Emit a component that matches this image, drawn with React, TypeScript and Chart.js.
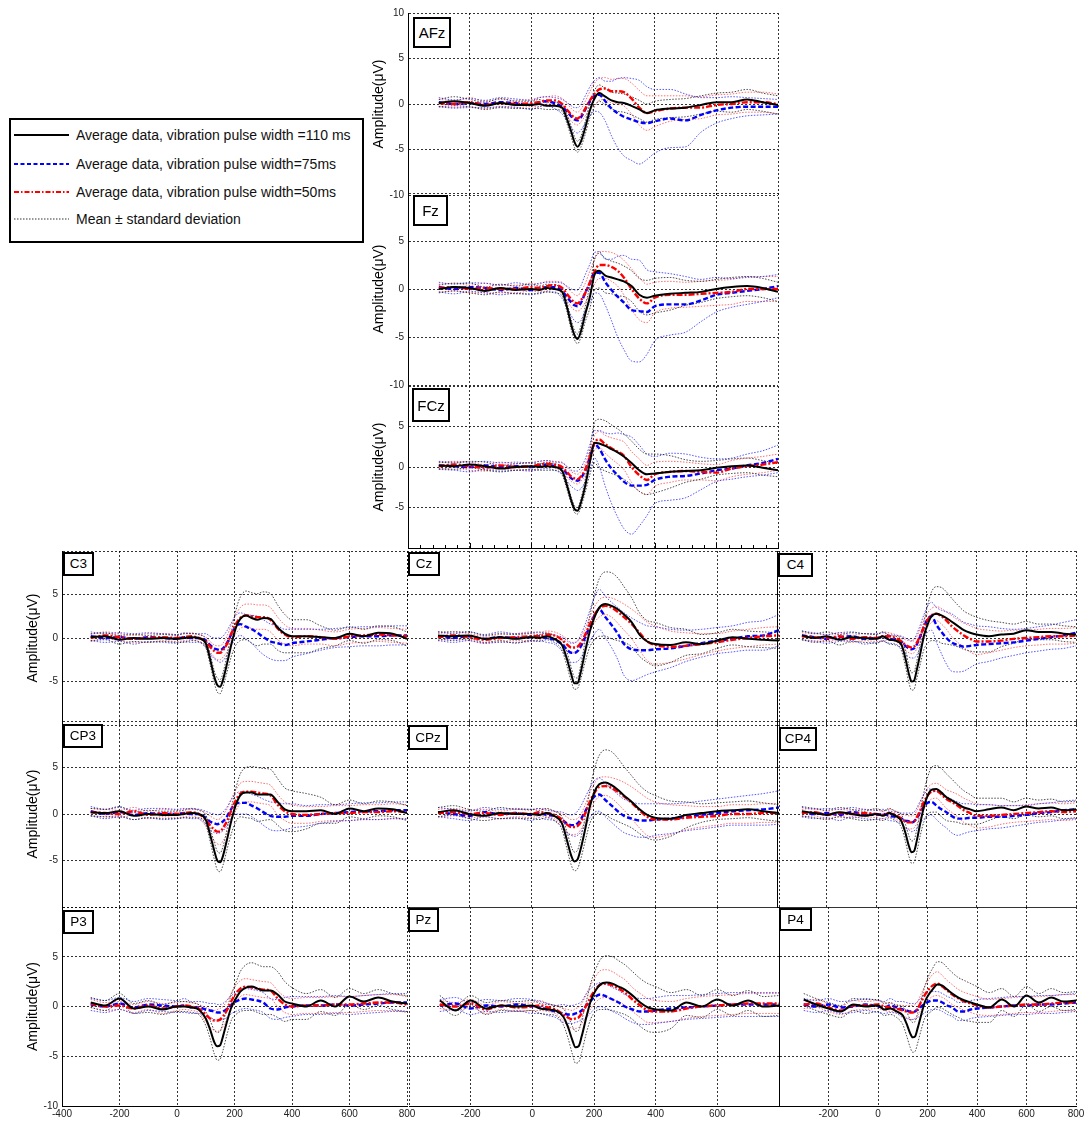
import React, { useEffect, useRef } from 'react';
import { Chart, registerables } from 'chart.js';

Chart.register(...registerables);

// ---------------- data ----------------
const TIME_MS = [-300, -250, -200, -150, -100, -50, 0, 25, 50, 75,
  100, 115, 130, 140, 150, 160, 175, 190, 205, 220,
  240, 260, 280, 300, 325, 350, 375, 400, 450, 500,
  550, 600, 650, 700, 750, 800];

const X_TICKS_ALL = [-400, -200, 0, 200, 400, 600, 800];
const X_TICKS_MID = [-200, 0, 200, 400, 600];
const X_TICKS_RIGHT = [-200, 0, 200, 400, 600, 800];
const Y_TICKS_FULL = [10, 5, 0, -5, -10];
const Y_TICKS_LOW = [5, 0, -5, -10];
const Y_TICKS_MIDDLE = [5, 0, -5];

const SERIES_LABELS = [
  'Average data, vibration pulse width =110 ms',
  'Average data, vibration pulse width=75ms',
  'Average data, vibration pulse width=50ms',
  'Mean \u00b1 standard deviation',
];
const Y_TITLE = 'Amplitude(\u03bcV)';

// AFz
const AFZ_M110 = [0.1, 0.3, 0.1, -0.2, 0.1, -0.1, -0.1, 0.0, -0.2, -0.2, -0.4, -1.6, -3.1, -4.2, -4.7, -4.2, -2.6, -0.7, 0.6, 1.2, 0.8, 0.4, 0.2, 0.1, -0.2, -0.6, -1.0, -0.7, -0.5, -0.4, -0.1, 0.2, 0.2, 0.5, 0.2, -0.1];
const AFZ_M75 = [0.2, 0.0, 0.1, 0.0, 0.2, 0.1, -0.1, 0.2, 0.3, 0.1, -0.3, -0.8, -1.4, -1.7, -1.8, -1.5, -0.6, 0.3, 0.9, 1.0, 0.3, -0.5, -1.0, -1.4, -1.7, -2.0, -2.1, -1.9, -1.6, -1.8, -1.2, -0.7, -0.4, -0.3, -0.3, -0.3];
const AFZ_M50 = [0.1, 0.0, 0.2, -0.1, 0.1, 0.0, 0.1, 0.2, 0.4, 0.4, 0.0, -0.6, -1.2, -1.5, -1.6, -1.3, -0.5, 0.4, 1.1, 1.6, 1.7, 1.4, 1.4, 1.3, 0.6, -0.4, -1.0, -0.8, -0.5, -0.4, -0.4, -0.1, 0.0, 0.2, 0.2, 0.0];
const AFZ_S110 = [0.4, 0.5, 0.4, 0.4, 0.5, 0.4, 0.4, 0.5, 0.4, 0.4, 0.4, 0.5, 0.6, 0.6, 0.6, 0.6, 0.7, 0.8, 0.9, 0.9, 0.9, 0.9, 1.0, 1.0, 1.0, 1.0, 1.0, 1.0, 1.0, 1.0, 1.0, 1.0, 1.1, 1.1, 1.0, 1.0];
const AFZ_S75 = [0.5, 0.45, 0.5, 0.4, 0.5, 0.45, 0.5, 0.5, 0.5, 0.6, 0.8, 1.0, 1.2, 1.3, 1.4, 1.4, 1.5, 1.6, 1.7, 1.9, 2.2, 3.0, 3.8, 4.3, 4.5, 4.6, 4.0, 3.5, 3.2, 2.9, 1.9, 1.4, 1.2, 1.0, 0.9, 0.8];
const AFZ_S50 = [0.4, 0.4, 0.5, 0.4, 0.4, 0.4, 0.4, 0.5, 0.4, 0.5, 0.6, 0.7, 0.7, 0.7, 0.7, 0.7, 0.8, 1.0, 1.2, 1.2, 1.2, 1.3, 1.4, 1.5, 1.7, 1.9, 1.9, 1.7, 1.4, 1.3, 1.2, 1.1, 1.1, 1.1, 1.1, 1.1];

// Fz
const FZ_M110 = [0.0, 0.2, 0.1, -0.2, 0.1, -0.1, 0.0, -0.1, 0.1, 0.0, -0.3, -1.8, -3.8, -4.8, -5.2, -4.5, -2.6, -0.8, 1.5, 1.9, 1.4, 1.2, 1.0, 0.8, 0.3, -0.6, -0.9, -0.7, -0.5, -0.4, -0.3, 0.0, 0.2, 0.3, 0.1, -0.3];
const FZ_M75 = [0.2, 0.0, 0.2, 0.1, -0.1, 0.1, -0.1, 0.1, 0.2, 0.2, -0.2, -0.8, -1.4, -1.7, -1.8, -1.5, -0.4, 0.6, 1.7, 1.7, 0.7, -0.1, -0.8, -1.4, -2.2, -2.3, -2.4, -1.8, -1.6, -1.6, -1.2, -0.6, -0.4, -0.2, 0.0, 0.3];
const FZ_M50 = [0.1, 0.2, 0.0, 0.1, 0.0, 0.0, 0.2, 0.1, 0.3, 0.4, 0.1, -0.5, -1.1, -1.4, -1.5, -1.2, -0.4, 0.7, 1.8, 2.5, 2.5, 2.3, 1.9, 1.2, 0.0, -1.0, -1.5, -0.9, -0.6, -0.6, -0.5, -0.4, -0.3, 0.0, 0.0, 0.0];
const FZ_S110 = [0.4, 0.4, 0.5, 0.4, 0.4, 0.4, 0.5, 0.4, 0.4, 0.4, 0.4, 0.5, 0.5, 0.5, 0.5, 0.6, 0.8, 1.2, 1.6, 1.8, 1.8, 1.7, 1.7, 1.6, 1.6, 1.7, 1.8, 1.8, 1.7, 1.3, 1.1, 1.0, 1.0, 1.0, 1.0, 1.0];
const FZ_S75 = [0.5, 0.5, 0.45, 0.5, 0.5, 0.55, 0.5, 0.5, 0.5, 0.5, 0.8, 1.1, 1.4, 1.6, 1.7, 1.8, 1.9, 2.0, 2.1, 2.2, 2.4, 3.2, 4.2, 4.9, 5.3, 5.3, 4.4, 3.6, 3.2, 2.9, 2.2, 1.8, 1.5, 1.4, 1.3, 1.2];
const FZ_S50 = [0.4, 0.4, 0.4, 0.5, 0.4, 0.4, 0.4, 0.4, 0.5, 0.4, 0.6, 0.7, 0.8, 0.8, 0.8, 0.9, 1.0, 1.2, 1.3, 1.4, 1.4, 1.5, 1.6, 1.8, 2.1, 2.2, 2.0, 1.6, 1.4, 1.3, 1.3, 1.3, 1.3, 1.3, 1.3, 1.3];

// FCz
const FCZ_M110 = [0.2, 0.1, 0.3, 0.1, -0.2, 0.0, 0.1, 0.0, 0.1, 0.0, -0.5, -2.2, -4.2, -5.2, -5.4, -4.5, -2.3, 0.6, 3.0, 2.9, 2.6, 2.2, 1.8, 1.3, 0.5, -0.4, -0.9, -0.8, -0.6, -0.5, -0.4, -0.1, 0.1, 0.2, -0.1, -0.4];
const FCZ_M75 = [0.2, 0.1, 0.0, 0.2, 0.0, 0.1, 0.0, 0.2, 0.3, 0.1, -0.2, -0.8, -1.4, -1.6, -1.7, -1.4, -0.4, 1.2, 2.8, 2.3, 0.9, -0.2, -1.0, -1.8, -2.3, -2.3, -2.2, -1.6, -1.2, -1.1, -0.8, -0.4, -0.2, 0.2, 0.5, 1.0];
const FCZ_M50 = [0.1, 0.3, 0.1, -0.1, 0.2, 0.0, 0.1, 0.3, 0.4, 0.3, 0.0, -0.6, -1.2, -1.4, -1.5, -1.2, -0.3, 1.3, 3.0, 3.4, 2.8, 2.3, 1.9, 1.4, 0.0, -1.0, -1.6, -0.9, -0.6, -0.5, -0.6, -0.7, -0.2, 0.1, 0.3, 0.6];
const FCZ_S110 = [0.4, 0.4, 0.4, 0.5, 0.4, 0.4, 0.4, 0.4, 0.5, 0.4, 0.5, 0.5, 0.4, 0.4, 0.4, 0.5, 0.8, 1.5, 2.5, 3.0, 3.1, 3.0, 2.9, 2.8, 2.7, 2.6, 2.5, 2.4, 2.0, 1.4, 1.1, 0.9, 0.9, 0.9, 0.9, 0.8];
const FCZ_S75 = [0.5, 0.5, 0.6, 0.5, 0.5, 0.5, 0.5, 0.5, 0.5, 0.5, 0.7, 0.9, 1.0, 1.1, 1.2, 1.3, 1.4, 1.6, 1.7, 2.2, 3.3, 4.3, 5.2, 5.8, 6.0, 5.0, 3.8, 2.9, 2.9, 2.7, 2.0, 1.4, 1.3, 1.4, 1.5, 1.7];
const FCZ_S50 = [0.4, 0.4, 0.5, 0.4, 0.4, 0.4, 0.5, 0.4, 0.4, 0.4, 0.6, 0.6, 0.6, 0.6, 0.6, 0.6, 0.7, 0.8, 0.9, 1.0, 1.1, 1.3, 1.5, 1.7, 1.9, 2.0, 1.8, 1.5, 1.3, 1.1, 1.0, 1.0, 1.0, 1.0, 1.0, 1.0];

// C3
const C3_M110 = [0.1, 0.2, -0.2, 0.0, -0.1, 0.0, -0.1, 0.0, 0.1, 0.0, -0.6, -2.4, -4.5, -5.4, -5.6, -4.8, -2.8, -0.6, 1.2, 2.2, 2.6, 2.3, 2.1, 2.3, 2.2, 1.2, 0.5, 0.2, 0.2, 0.1, 0.0, 0.5, 0.2, 0.6, 0.5, -0.1];
const C3_M75 = [0.2, 0.0, 0.1, -0.1, 0.1, 0.0, -0.1, 0.1, 0.0, 0.0, -0.3, -0.8, -1.2, -1.3, -1.4, -1.2, -0.5, 0.5, 1.3, 1.6, 1.3, 1.0, 0.6, 0.1, -0.4, -0.6, -0.8, -0.6, -0.4, -0.2, 0.0, 0.1, 0.2, 0.2, 0.3, 0.3];
const C3_M50 = [0.0, 0.3, 0.1, -0.1, 0.0, 0.1, 0.0, 0.1, 0.2, 0.0, -0.4, -1.0, -1.5, -1.7, -1.7, -1.4, -0.6, 0.6, 1.6, 2.3, 2.6, 2.5, 2.4, 2.4, 2.1, 1.1, 0.4, 0.1, 0.2, 0.1, -0.1, 0.2, 0.3, 0.4, 0.3, 0.2];
const C3_S110 = [0.4, 0.4, 0.5, 0.4, 0.4, 0.4, 0.4, 0.5, 0.4, 0.4, 0.5, 0.6, 0.7, 0.8, 0.8, 0.8, 1.0, 1.4, 2.0, 2.5, 2.8, 2.9, 3.0, 3.0, 2.9, 2.6, 2.2, 1.9, 1.9, 1.3, 0.9, 0.8, 0.8, 0.8, 0.8, 0.8];
const C3_S75 = [0.5, 0.5, 0.5, 0.6, 0.5, 0.5, 0.5, 0.5, 0.5, 0.5, 0.8, 1.0, 1.2, 1.3, 1.4, 1.4, 1.4, 1.3, 1.3, 1.3, 1.4, 1.6, 1.9, 2.0, 2.0, 2.0, 1.8, 1.6, 1.4, 1.2, 1.1, 1.1, 1.1, 1.1, 1.1, 1.1];
const C3_S50 = [0.4, 0.4, 0.4, 0.4, 0.5, 0.4, 0.4, 0.4, 0.4, 0.4, 0.5, 0.6, 0.7, 0.8, 0.8, 0.8, 0.9, 1.0, 1.1, 1.2, 1.3, 1.4, 1.4, 1.4, 1.4, 1.3, 1.1, 1.0, 0.9, 0.8, 0.8, 0.8, 0.8, 0.8, 0.8, 0.8];

// Cz
const CZ_M110 = [0.3, 0.2, 0.3, -0.1, 0.1, -0.1, 0.1, 0.0, 0.2, -0.1, -0.8, -2.3, -4.2, -5.2, -5.2, -4.0, -1.5, 0.8, 2.4, 3.5, 3.9, 3.7, 3.3, 2.7, 1.8, 0.4, -0.4, -0.7, -0.8, -0.5, -0.7, -0.3, 0.1, -0.1, -0.2, -0.3];
const CZ_M75 = [0.2, 0.0, 0.2, -0.1, 0.1, 0.0, 0.1, 0.2, 0.0, -0.2, -0.7, -1.3, -1.7, -1.7, -1.5, -1.0, 0.1, 1.4, 2.6, 3.3, 2.4, 1.5, 0.5, -0.7, -1.3, -1.4, -1.4, -1.3, -1.2, -0.9, -0.6, -0.3, -0.1, 0.2, 0.3, 0.9];
const CZ_M50 = [0.1, 0.3, 0.1, -0.2, 0.0, 0.1, 0.2, 0.2, 0.4, 0.3, -0.2, -0.7, -1.1, -1.1, -1.0, -0.6, 0.4, 1.6, 2.7, 3.4, 3.7, 3.5, 3.0, 2.4, 1.6, 0.6, -0.4, -0.8, -1.0, -0.9, -0.7, -0.5, -0.2, 0.0, 0.2, 0.3];
const CZ_S110 = [0.4, 0.5, 0.4, 0.4, 0.4, 0.5, 0.4, 0.4, 0.4, 0.4, 0.6, 0.8, 0.8, 0.7, 0.6, 0.8, 1.2, 1.8, 2.6, 3.3, 3.7, 3.8, 3.6, 3.2, 2.8, 2.5, 2.4, 2.5, 2.0, 1.5, 1.1, 0.9, 0.9, 0.9, 0.9, 0.9];
const CZ_S75 = [0.5, 0.5, 0.5, 0.5, 0.6, 0.5, 0.5, 0.5, 0.5, 0.5, 0.8, 1.0, 1.1, 1.1, 1.2, 1.3, 1.5, 1.8, 2.1, 2.3, 2.4, 2.6, 3.0, 3.6, 3.6, 3.2, 2.8, 2.6, 2.2, 1.8, 1.6, 1.5, 1.5, 1.6, 1.7, 1.8];
const CZ_S50 = [0.4, 0.4, 0.4, 0.4, 0.4, 0.4, 0.5, 0.4, 0.4, 0.4, 0.5, 0.6, 0.6, 0.6, 0.6, 0.6, 0.7, 0.8, 0.9, 1.0, 1.0, 1.1, 1.3, 1.5, 1.7, 2.0, 2.2, 2.2, 1.8, 1.5, 1.2, 1.0, 1.0, 1.0, 1.0, 1.0];

// C4
const C4_M110 = [0.3, 0.0, 0.2, -0.2, 0.1, 0.0, -0.1, 0.2, -0.2, -0.3, -0.8, -2.3, -4.2, -5.0, -4.9, -3.8, -1.8, 0.3, 1.6, 2.5, 2.8, 2.6, 2.3, 1.9, 1.4, 0.9, 0.6, 0.4, 0.2, 0.4, 0.5, 0.9, 0.7, 0.7, 0.5, 0.4];
const C4_M75 = [0.3, 0.1, -0.1, 0.1, 0.2, -0.1, 0.0, 0.1, -0.1, -0.2, -0.5, -0.9, -1.2, -1.3, -1.2, -0.8, 0.2, 1.3, 2.2, 2.5, 1.5, 0.7, 0.0, -0.5, -0.8, -1.0, -0.9, -0.8, -0.7, -0.6, -0.5, -0.3, -0.1, 0.1, 0.3, 0.6];
const C4_M50 = [0.2, 0.1, 0.0, 0.2, -0.1, 0.1, 0.0, 0.2, 0.2, 0.0, -0.4, -0.8, -1.0, -1.1, -1.0, -0.6, 0.3, 1.3, 2.1, 2.6, 2.8, 2.5, 2.0, 1.4, 0.8, 0.3, -0.1, -0.4, -0.4, -0.3, -0.1, 0.0, 0.1, 0.2, 0.2, 0.3];
const C4_S110 = [0.5, 0.5, 0.5, 0.6, 0.5, 0.5, 0.5, 0.5, 0.5, 0.5, 0.7, 0.9, 1.0, 1.0, 1.0, 1.0, 1.2, 1.6, 2.2, 2.8, 3.1, 3.2, 3.0, 2.7, 2.4, 2.2, 2.1, 2.0, 1.8, 1.4, 1.1, 1.0, 0.9, 0.9, 0.9, 0.9];
const C4_S75 = [0.5, 0.5, 0.5, 0.5, 0.5, 0.6, 0.5, 0.5, 0.5, 0.5, 0.7, 0.9, 1.0, 1.0, 1.1, 1.2, 1.3, 1.4, 1.5, 1.6, 2.0, 2.5, 3.0, 3.3, 3.1, 2.8, 2.5, 2.2, 2.0, 1.7, 1.5, 1.4, 1.4, 1.4, 1.5, 1.5];
const C4_S50 = [0.4, 0.4, 0.4, 0.4, 0.4, 0.4, 0.4, 0.5, 0.4, 0.4, 0.5, 0.6, 0.7, 0.7, 0.7, 0.7, 0.8, 0.8, 0.8, 0.8, 0.8, 0.9, 1.0, 1.2, 1.3, 1.4, 1.5, 1.5, 1.3, 1.1, 1.0, 0.9, 0.9, 0.9, 0.9, 0.9];

// CP3
const CP3_M110 = [0.2, 0.1, 0.3, -0.2, 0.0, -0.1, -0.1, 0.0, 0.1, 0.0, -0.6, -2.2, -4.0, -5.0, -5.2, -4.5, -2.6, -0.6, 1.0, 2.0, 2.3, 2.3, 2.1, 2.1, 2.1, 1.3, 0.5, 0.3, 0.3, 0.4, 0.0, 0.6, 0.3, 0.6, 0.5, 0.1];
const CP3_M75 = [0.3, 0.0, 0.2, -0.1, 0.1, 0.0, 0.0, 0.1, 0.0, 0.0, -0.4, -0.8, -1.0, -1.1, -1.0, -0.8, -0.2, 0.6, 1.1, 1.2, 1.2, 0.9, 0.6, 0.2, -0.2, -0.3, -0.3, -0.2, -0.2, 0.0, 0.1, 0.2, 0.3, 0.3, 0.4, 0.4];
const CP3_M50 = [0.2, 0.1, 0.0, 0.3, -0.1, 0.1, 0.0, 0.1, 0.2, 0.0, -0.6, -1.2, -1.7, -1.9, -1.9, -1.5, -0.7, 0.5, 1.5, 2.2, 2.4, 2.4, 2.3, 2.2, 2.0, 1.0, 0.3, 0.0, -0.1, 0.0, 0.1, 0.1, 0.2, 0.2, 0.3, 0.2];
const CP3_S110 = [0.4, 0.4, 0.5, 0.4, 0.4, 0.4, 0.4, 0.4, 0.5, 0.4, 0.5, 0.7, 0.9, 1.0, 1.0, 1.0, 1.1, 1.4, 1.8, 2.3, 2.7, 2.8, 2.9, 2.8, 2.7, 2.5, 2.3, 2.2, 1.9, 1.4, 1.0, 0.9, 0.8, 0.8, 0.8, 0.8];
const CP3_S75 = [0.5, 0.5, 0.5, 0.5, 0.5, 0.6, 0.5, 0.5, 0.5, 0.5, 0.7, 0.9, 1.0, 1.0, 1.0, 1.0, 1.0, 1.0, 1.1, 1.2, 1.2, 1.2, 1.3, 1.4, 1.5, 1.5, 1.4, 1.3, 1.1, 1.0, 0.9, 0.9, 0.9, 0.9, 0.9, 0.9];
const CP3_S50 = [0.4, 0.4, 0.4, 0.4, 0.4, 0.4, 0.4, 0.4, 0.4, 0.5, 0.7, 1.0, 1.2, 1.3, 1.4, 1.4, 1.3, 1.2, 1.1, 1.1, 1.1, 1.1, 1.1, 1.1, 1.1, 1.1, 1.0, 1.0, 0.9, 0.8, 0.8, 0.8, 0.8, 0.8, 0.8, 0.8];

// CPz
const CPZ_M110 = [0.2, 0.4, 0.0, -0.2, 0.1, 0.0, 0.0, -0.1, 0.1, -0.2, -1.0, -2.7, -4.5, -5.1, -4.9, -3.8, -1.6, 0.8, 2.4, 3.2, 3.4, 3.1, 2.6, 2.0, 1.3, 0.5, -0.1, -0.4, -0.5, -0.1, 0.1, 0.3, 0.4, 0.5, 0.3, 0.1];
const CPZ_M75 = [0.2, 0.0, -0.2, 0.2, 0.0, 0.1, -0.1, 0.1, -0.1, -0.2, -0.6, -1.0, -1.2, -1.2, -1.0, -0.6, 0.3, 1.2, 1.9, 2.1, 1.5, 0.9, 0.3, -0.2, -0.5, -0.7, -0.7, -0.6, -0.5, -0.3, -0.1, 0.1, 0.3, 0.4, 0.5, 0.7];
const CPZ_M50 = [0.1, 0.2, 0.0, 0.1, -0.1, 0.1, 0.0, 0.2, 0.1, -0.1, -0.6, -1.1, -1.4, -1.4, -1.3, -0.9, 0.1, 1.3, 2.3, 2.9, 3.0, 2.8, 2.4, 1.9, 1.2, 0.4, -0.3, -0.6, -0.6, -0.4, -0.3, -0.2, 0.0, 0.0, 0.1, 0.1];
const CPZ_S110 = [0.5, 0.5, 0.5, 0.5, 0.6, 0.5, 0.5, 0.5, 0.5, 0.5, 0.7, 0.9, 1.0, 1.0, 1.0, 1.1, 1.3, 1.8, 2.5, 3.1, 3.5, 3.6, 3.4, 3.1, 2.8, 2.6, 2.5, 2.4, 1.9, 1.4, 1.0, 0.9, 0.9, 0.9, 0.9, 0.9];
const CPZ_S75 = [0.5, 0.5, 0.5, 0.5, 0.5, 0.5, 0.6, 0.5, 0.5, 0.5, 0.8, 1.0, 1.1, 1.2, 1.3, 1.4, 1.5, 1.6, 1.7, 1.8, 1.8, 1.8, 1.8, 1.8, 1.8, 1.8, 1.8, 1.7, 1.6, 1.5, 1.5, 1.5, 1.5, 1.6, 1.7, 1.8];
const CPZ_S50 = [0.4, 0.4, 0.4, 0.4, 0.4, 0.4, 0.4, 0.4, 0.4, 0.4, 0.6, 0.8, 0.8, 0.8, 0.8, 0.8, 0.9, 1.0, 1.0, 1.0, 1.0, 1.1, 1.3, 1.5, 1.7, 1.9, 2.0, 1.9, 1.6, 1.3, 1.1, 1.0, 1.0, 1.0, 1.0, 1.0];

// CP4
const CP4_M110 = [0.3, 0.1, -0.1, 0.2, 0.0, -0.2, 0.0, -0.2, 0.1, -0.2, -0.8, -2.0, -3.5, -4.1, -4.0, -3.0, -1.0, 0.8, 2.0, 2.6, 2.7, 2.3, 1.8, 1.5, 1.1, 0.7, 0.5, 0.3, 0.5, 0.7, 0.4, 0.8, 0.6, 0.7, 0.4, 0.5];
const CP4_M75 = [0.2, 0.0, 0.1, -0.1, 0.2, 0.0, -0.1, 0.0, -0.2, -0.3, -0.5, -0.7, -0.8, -0.9, -0.8, -0.5, 0.2, 0.8, 1.2, 1.3, 0.9, 0.5, 0.2, -0.2, -0.5, -0.5, -0.4, -0.4, -0.3, -0.3, -0.2, -0.1, 0.1, 0.2, 0.4, 0.5];
const CP4_M50 = [0.1, 0.2, -0.1, 0.1, 0.0, 0.1, 0.0, -0.1, 0.1, -0.1, -0.5, -0.8, -0.9, -0.9, -0.8, -0.4, 0.4, 1.3, 2.0, 2.4, 2.5, 2.1, 1.6, 1.3, 0.9, 0.4, 0.1, -0.2, -0.2, -0.1, 0.0, 0.1, 0.2, 0.3, 0.2, 0.3];
const CP4_S110 = [0.5, 0.5, 0.5, 0.5, 0.5, 0.5, 0.6, 0.5, 0.5, 0.5, 0.7, 0.9, 1.1, 1.2, 1.2, 1.2, 1.3, 1.6, 2.0, 2.4, 2.5, 2.6, 2.5, 2.3, 2.0, 1.8, 1.6, 1.4, 1.2, 1.0, 0.9, 0.9, 0.9, 0.9, 0.9, 0.9];
const CP4_S75 = [0.5, 0.5, 0.5, 0.6, 0.5, 0.5, 0.5, 0.5, 0.5, 0.5, 0.6, 0.8, 0.9, 1.0, 1.0, 1.1, 1.2, 1.3, 1.4, 1.4, 1.5, 1.6, 1.7, 1.8, 1.8, 1.6, 1.5, 1.4, 1.3, 1.2, 1.1, 1.0, 1.0, 1.0, 1.0, 1.0];
const CP4_S50 = [0.4, 0.4, 0.4, 0.4, 0.4, 0.4, 0.4, 0.4, 0.4, 0.4, 0.5, 0.7, 0.7, 0.7, 0.7, 0.7, 0.8, 0.8, 0.8, 0.8, 0.8, 0.9, 1.0, 1.1, 1.2, 1.3, 1.3, 1.3, 1.2, 1.0, 0.9, 0.9, 0.9, 0.9, 0.9, 0.9];

// P3
const P3_M110 = [0.4, 0.1, 0.8, -0.2, 0.0, -0.3, 0.0, 0.0, -0.1, -0.3, -1.2, -2.3, -3.6, -4.0, -3.9, -3.0, -1.4, 0.0, 0.8, 1.5, 1.9, 2.0, 1.8, 1.6, 1.6, 1.2, 0.5, 0.3, 0.0, 0.6, 0.0, 1.0, 0.5, 0.9, 0.5, 0.3];
const P3_M75 = [0.2, 0.0, 0.3, -0.1, 0.2, 0.1, 0.0, 0.1, -0.1, -0.1, -0.3, -0.4, -0.5, -0.6, -0.6, -0.5, -0.2, 0.2, 0.5, 0.7, 0.8, 0.7, 0.6, 0.4, -0.2, -0.3, -0.1, 0.0, 0.1, 0.1, 0.2, 0.1, 0.2, 0.3, 0.4, 0.4];
const P3_M50 = [0.3, 0.0, 0.1, -0.2, 0.1, -0.2, 0.0, 0.1, 0.0, -0.2, -0.8, -1.2, -1.4, -1.4, -1.3, -1.0, -0.3, 0.6, 1.3, 1.8, 2.0, 1.9, 1.8, 1.7, 1.6, 0.8, 0.2, 0.0, 0.1, 0.1, 0.2, 0.2, 0.3, 0.4, 0.4, 0.2];
const P3_S110 = [0.5, 0.5, 0.5, 0.5, 0.6, 0.5, 0.5, 0.5, 0.5, 0.5, 0.7, 0.9, 1.2, 1.4, 1.4, 1.4, 1.3, 1.3, 1.6, 2.0, 2.3, 2.4, 2.4, 2.4, 2.4, 2.3, 2.0, 1.6, 1.3, 1.1, 0.9, 0.8, 0.8, 0.8, 0.8, 0.8];
const P3_S75 = [0.6, 0.6, 0.6, 0.6, 0.6, 0.6, 0.6, 0.7, 0.6, 0.6, 0.7, 0.7, 0.8, 0.8, 0.8, 0.8, 0.9, 0.9, 1.0, 1.0, 1.0, 1.0, 1.0, 1.0, 1.0, 1.0, 1.0, 1.0, 0.9, 0.9, 0.9, 0.9, 0.9, 0.9, 0.9, 0.9];
const P3_S50 = [0.4, 0.4, 0.4, 0.4, 0.4, 0.5, 0.4, 0.4, 0.4, 0.4, 0.7, 0.9, 1.0, 1.1, 1.1, 1.0, 0.9, 0.8, 0.8, 0.8, 0.8, 0.8, 0.8, 0.8, 0.8, 0.8, 0.8, 0.8, 0.8, 0.8, 0.8, 0.8, 0.8, 0.8, 0.8, 0.8];

// Pz
const PZ_M110 = [0.6, -0.4, 0.6, -0.2, 0.1, 0.0, 0.1, -0.2, -0.3, -0.4, -1.0, -2.0, -3.4, -4.1, -4.0, -3.0, -1.1, 0.6, 1.6, 2.2, 2.4, 2.3, 2.0, 1.7, 1.1, 0.4, -0.1, -0.3, -0.4, 0.4, 0.0, 0.7, 0.1, 0.6, 0.0, 0.1];
const PZ_M75 = [0.1, 0.3, -0.2, 0.1, 0.0, 0.2, 0.0, -0.1, -0.3, -0.5, -0.7, -0.8, -0.8, -0.7, -0.6, -0.4, 0.1, 0.6, 1.0, 1.2, 1.0, 0.7, 0.4, 0.0, -0.3, -0.5, -0.5, -0.4, -0.2, -0.1, 0.0, 0.1, 0.2, 0.2, 0.2, 0.2];
const PZ_M50 = [0.2, 0.0, 0.3, -0.3, 0.1, -0.1, 0.0, 0.1, -0.1, -0.3, -0.8, -1.1, -1.3, -1.2, -1.1, -0.7, 0.1, 1.0, 1.7, 2.2, 2.3, 2.1, 1.8, 1.4, 0.7, 0.1, -0.4, -0.5, -0.5, -0.2, 0.0, 0.1, 0.2, 0.3, 0.3, 0.3];
const PZ_S110 = [0.5, 0.5, 0.5, 0.6, 0.5, 0.5, 0.5, 0.5, 0.5, 0.5, 0.8, 1.1, 1.4, 1.6, 1.6, 1.6, 1.6, 1.8, 2.1, 2.5, 2.7, 2.7, 2.6, 2.5, 2.4, 2.4, 2.4, 2.3, 1.8, 1.3, 1.1, 1.0, 1.0, 1.0, 1.0, 1.0];
const PZ_S75 = [0.6, 0.6, 0.6, 0.6, 0.6, 0.6, 0.7, 0.6, 0.6, 0.6, 0.9, 0.9, 0.9, 0.9, 0.9, 0.9, 1.2, 1.2, 1.2, 1.2, 1.2, 1.2, 1.2, 1.2, 1.3, 1.3, 1.3, 1.3, 1.3, 1.2, 1.2, 1.2, 1.2, 1.2, 1.2, 1.2];
const PZ_S50 = [0.4, 0.4, 0.4, 0.4, 0.4, 0.4, 0.4, 0.5, 0.4, 0.4, 0.6, 0.8, 0.9, 1.0, 1.0, 1.0, 1.1, 1.2, 1.3, 1.4, 1.4, 1.4, 1.3, 1.3, 1.2, 1.2, 1.2, 1.1, 1.0, 1.0, 1.0, 1.0, 1.0, 1.0, 1.0, 1.0];

// P4
const P4_M110 = [0.7, 0.2, -0.2, -0.5, 0.2, 0.0, 0.1, -0.3, -0.2, -0.5, -0.9, -1.7, -2.7, -3.1, -3.0, -2.2, -0.8, 0.5, 1.2, 1.7, 2.2, 2.1, 1.7, 1.3, 0.9, 0.6, 0.4, 0.2, -0.1, 0.7, 0.0, 1.1, 0.4, 0.9, 0.5, 0.6];
const P4_M75 = [0.2, 0.0, 0.2, -0.1, 0.0, 0.2, 0.0, -0.1, 0.1, -0.1, -0.3, -0.4, -0.5, -0.5, -0.5, -0.3, 0.0, 0.3, 0.5, 0.6, 0.6, 0.4, 0.1, -0.1, -0.5, -0.5, -0.3, -0.2, -0.1, 0.0, 0.1, 0.1, 0.2, 0.2, 0.3, 0.4];
const P4_M50 = [0.2, 0.3, -0.1, -0.4, 0.1, 0.1, 0.2, 0.0, -0.1, -0.2, -0.4, -0.5, -0.6, -0.6, -0.5, -0.2, 0.5, 1.2, 1.7, 2.1, 2.3, 2.0, 1.6, 1.2, 0.8, 0.5, 0.3, 0.1, -0.1, 0.0, 0.1, 0.2, 0.2, 0.3, 0.4, 0.4];
const P4_S110 = [0.6, 0.6, 0.6, 0.6, 0.6, 0.7, 0.6, 0.6, 0.6, 0.6, 0.9, 1.2, 1.4, 1.5, 1.5, 1.5, 1.5, 1.6, 1.9, 2.1, 2.3, 2.3, 2.2, 2.1, 2.0, 2.0, 1.9, 1.8, 1.5, 1.1, 1.0, 0.9, 0.9, 0.9, 0.9, 0.9];
const P4_S75 = [0.6, 0.6, 0.6, 0.6, 0.6, 0.6, 0.6, 0.6, 0.7, 0.6, 0.8, 0.8, 0.8, 0.8, 0.8, 0.8, 0.9, 0.9, 0.9, 0.9, 0.9, 0.9, 0.9, 0.9, 0.9, 0.9, 0.9, 0.9, 0.9, 0.9, 0.9, 0.9, 0.9, 0.9, 0.9, 0.9];
const P4_S50 = [0.4, 0.4, 0.4, 0.4, 0.5, 0.4, 0.4, 0.4, 0.4, 0.4, 0.5, 0.6, 0.7, 0.7, 0.7, 0.7, 0.8, 0.9, 1.0, 1.1, 1.2, 1.1, 1.0, 1.0, 0.9, 0.9, 0.9, 0.9, 0.8, 0.8, 0.8, 0.8, 0.8, 0.8, 0.8, 0.8];

// ---------------- layout / styles ----------------
const FONT = 'Arial, "Liberation Sans", Helvetica, sans-serif';

type Panel = {
  name: string;
  series: number[][];
  l: number; t: number; r: number; b: number;
  yLabels: number[]; xLabels: number[];
  yTitle: boolean; leftBorder: boolean; bottomBorder: boolean; innerTicks: boolean;
  box: { l: number; t: number; w: number; h: number; fs: number };
};

const PANELS: Panel[] = [
  { name: 'AFz', series: [AFZ_M110, AFZ_M75, AFZ_M50, AFZ_S110, AFZ_S75, AFZ_S50], l: 408, t: 13, r: 778, b: 195, yLabels: Y_TICKS_FULL, xLabels: [], yTitle: true, leftBorder: true, bottomBorder: false, innerTicks: false, box: { l: 413, t: 17, w: 38, h: 31, fs: 15 } },
  { name: 'Fz', series: [FZ_M110, FZ_M75, FZ_M50, FZ_S110, FZ_S75, FZ_S50], l: 408, t: 193, r: 778, b: 385, yLabels: Y_TICKS_LOW, xLabels: [], yTitle: true, leftBorder: true, bottomBorder: false, innerTicks: false, box: { l: 413, t: 195, w: 35, h: 31, fs: 15 } },
  { name: 'FCz', series: [FCZ_M110, FCZ_M75, FCZ_M50, FCZ_S110, FCZ_S75, FCZ_S50], l: 408, t: 386, r: 778, b: 548, yLabels: Y_TICKS_MIDDLE, xLabels: [], yTitle: true, leftBorder: true, bottomBorder: true, innerTicks: true, box: { l: 412, t: 388, w: 38, h: 34, fs: 15 } },
  { name: 'Cz', series: [CZ_M110, CZ_M75, CZ_M50, CZ_S110, CZ_S75, CZ_S50], l: 407, t: 551, r: 779, b: 725, yLabels: [], xLabels: [], yTitle: false, leftBorder: false, bottomBorder: false, innerTicks: false, box: { l: 408, t: 552, w: 32, h: 24, fs: 13.5 } },
  { name: 'CPz', series: [CPZ_M110, CPZ_M75, CPZ_M50, CPZ_S110, CPZ_S75, CPZ_S50], l: 407, t: 721, r: 779, b: 907, yLabels: [], xLabels: [], yTitle: false, leftBorder: false, bottomBorder: false, innerTicks: false, box: { l: 408, t: 725, w: 40, h: 25, fs: 13.5 } },
  { name: 'Pz', series: [PZ_M110, PZ_M75, PZ_M50, PZ_S110, PZ_S75, PZ_S50], l: 407, t: 907, r: 779, b: 1106, yLabels: [], xLabels: X_TICKS_MID, yTitle: false, leftBorder: false, bottomBorder: true, innerTicks: false, box: { l: 408, t: 908, w: 31, h: 24, fs: 13.5 } },
  { name: 'C3', series: [C3_M110, C3_M75, C3_M50, C3_S110, C3_S75, C3_S50], l: 62, t: 551, r: 407, b: 725, yLabels: Y_TICKS_MIDDLE, xLabels: [], yTitle: true, leftBorder: true, bottomBorder: false, innerTicks: false, box: { l: 63, t: 552, w: 31, h: 24, fs: 13.5 } },
  { name: 'CP3', series: [CP3_M110, CP3_M75, CP3_M50, CP3_S110, CP3_S75, CP3_S50], l: 62, t: 721, r: 407, b: 907, yLabels: Y_TICKS_MIDDLE, xLabels: [], yTitle: true, leftBorder: true, bottomBorder: false, innerTicks: false, box: { l: 63, t: 724, w: 40, h: 24, fs: 13.5 } },
  { name: 'P3', series: [P3_M110, P3_M75, P3_M50, P3_S110, P3_S75, P3_S50], l: 62, t: 907, r: 407, b: 1106, yLabels: Y_TICKS_LOW, xLabels: X_TICKS_ALL, yTitle: true, leftBorder: true, bottomBorder: true, innerTicks: false, box: { l: 63, t: 910, w: 31, h: 24, fs: 13.5 } },
  { name: 'C4', series: [C4_M110, C4_M75, C4_M50, C4_S110, C4_S75, C4_S50], l: 777, t: 551, r: 1076, b: 725, yLabels: [], xLabels: [], yTitle: false, leftBorder: true, bottomBorder: false, innerTicks: false, box: { l: 778, t: 553, w: 35, h: 24, fs: 13.5 } },
  { name: 'CP4', series: [CP4_M110, CP4_M75, CP4_M50, CP4_S110, CP4_S75, CP4_S50], l: 777, t: 721, r: 1076, b: 907, yLabels: [], xLabels: [], yTitle: false, leftBorder: true, bottomBorder: false, innerTicks: false, box: { l: 779, t: 727, w: 38, h: 24, fs: 13.5 } },
  { name: 'P4', series: [P4_M110, P4_M75, P4_M50, P4_S110, P4_S75, P4_S50], l: 777, t: 907, r: 1076, b: 1106, yLabels: [], xLabels: X_TICKS_RIGHT, yTitle: false, leftBorder: true, bottomBorder: true, innerTicks: false, box: { l: 779, t: 908, w: 33, h: 23, fs: 13.5 } },
];

const innerTicksPlugin = {
  id: 'innerTicks',
  afterDraw(chart: any, _args: any, opts: any) {
    if (!opts || !opts.on) return;
    const { ctx, chartArea: a } = chart;
    const xs = chart.scales.x;
    ctx.save();
    ctx.strokeStyle = '#000';
    ctx.lineWidth = 1;
    for (let v = xs.min; v <= xs.max; v += 40) {
      const px = Math.round(xs.getPixelForValue(v)) + 0.5;
      const len = v % 200 === 0 ? 5 : 3;
      ctx.beginPath();
      ctx.moveTo(px, a.bottom);
      ctx.lineTo(px, a.bottom - len);
      ctx.stroke();
    }
    ctx.restore();
  },
};

function PanelChart({ p }: { p: Panel }) {
  const ref = useRef<HTMLCanvasElement | null>(null);
  const mL = p.yTitle ? 41 : 0;
  const mT = 12;
  const mR = 16;
  const mB = p.xLabels.length ? 18 : 12;
  const W = p.r - p.l;
  const H = p.b - p.t;
  const cw = mL + W + mR;
  const ch = mT + H + mB;

  useEffect(() => {
    if (!ref.current) return;
    const [m110, m75, m50, s110, s75, s50] = p.series;
    const mean = (arr: number[]) => TIME_MS.map((t, i) => ({ x: t, y: arr[i] }));
    const band = (arr: number[], sd: number[], sg: number) => TIME_MS.map((t, i) => ({ x: t, y: arr[i] + sg * sd[i] }));
    const sdStyle = (color: string, order: number) => ({ borderColor: color, borderWidth: 1, borderDash: [1.5, 1.5], order });
    const datasets: any[] = [
      { label: SERIES_LABELS[0], data: mean(m110), borderColor: '#000000', borderWidth: 2, order: 0 },
      { label: SERIES_LABELS[2], data: mean(m50), borderColor: '#ff0000', borderWidth: 2.4, borderDash: [6, 2, 2, 2], order: 1 },
      { label: SERIES_LABELS[1], data: mean(m75), borderColor: '#0000ff', borderWidth: 2.4, borderDash: [5, 2.5], order: 2 },
      { label: SERIES_LABELS[3], data: band(m110, s110, 1), ...sdStyle('rgba(30,30,30,0.8)', 3) },
      { label: SERIES_LABELS[3], data: band(m110, s110, -1), ...sdStyle('rgba(30,30,30,0.8)', 4) },
      { label: SERIES_LABELS[3], data: band(m75, s75, 1), ...sdStyle('rgba(30,30,255,0.75)', 5) },
      { label: SERIES_LABELS[3], data: band(m75, s75, -1), ...sdStyle('rgba(30,30,255,0.75)', 6) },
      { label: SERIES_LABELS[3], data: band(m50, s50, 1), ...sdStyle('rgba(255,50,50,0.7)', 7) },
      { label: SERIES_LABELS[3], data: band(m50, s50, -1), ...sdStyle('rgba(255,50,50,0.7)', 8) },
    ];
    const tickFont = { family: FONT, size: 10 };
    const gridColor = 'rgba(0,0,0,0.8)';
    const chart = new Chart(ref.current, {
      type: 'line',
      data: { datasets },
      plugins: [innerTicksPlugin],
      options: {
        animation: false,
        responsive: false,
        maintainAspectRatio: false,
        events: [],
        layout: { padding: { left: 0, top: mT, right: mR, bottom: 0 } },
        elements: {
          point: { radius: 0 },
          line: { cubicInterpolationMode: 'monotone', fill: false },
        },
        plugins: {
          legend: { display: false },
          tooltip: { enabled: false },
          innerTicks: { on: p.innerTicks },
        },
        scales: {
          x: {
            type: 'linear',
            min: -400,
            max: 800,
            ticks: {
              stepSize: 200,
              display: p.xLabels.length > 0,
              autoSkip: false,
              maxRotation: 0,
              padding: 2,
              font: tickFont,
              color: '#222',
              callback: (v: any) => (p.xLabels.includes(Number(v)) ? String(v) : ''),
            },
            grid: { color: gridColor, lineWidth: 1, drawTicks: false },
            border: { display: p.bottomBorder, color: '#000', width: 1, dash: [2, 2] },
            afterFit: (s: any) => { s.height = mB; },
          },
          y: {
            type: 'linear',
            min: -10,
            max: 10,
            ticks: {
              stepSize: 5,
              display: p.yLabels.length > 0,
              autoSkip: false,
              padding: 4,
              font: tickFont,
              color: '#222',
              callback: (v: any) => (p.yLabels.includes(Number(v)) ? String(v) : ''),
            },
            title: {
              display: p.yTitle,
              text: Y_TITLE,
              color: '#000',
              font: { family: FONT, size: 14 },
              padding: { top: 4, bottom: 0 },
            },
            grid: { color: gridColor, lineWidth: 1, drawTicks: false },
            border: { display: p.leftBorder, color: '#000', width: 1, dash: [2, 2] },
            afterFit: (s: any) => { s.width = mL; },
          },
        },
      } as any,
    });
    return () => chart.destroy();
  }, []);

  return (
    <canvas
      ref={ref}
      width={cw}
      height={ch}
      style={{ position: 'absolute', left: p.l - mL, top: p.t - mT, width: cw, height: ch }}
    />
  );
}

const LEGEND_LINE_STYLES: any[] = [
  { stroke: '#000', strokeWidth: 2 },
  { stroke: '#0000ff', strokeWidth: 2, strokeDasharray: '4 2.5' },
  { stroke: '#ff0000', strokeWidth: 2, strokeDasharray: '5 2 1.5 2' },
  { stroke: '#333', strokeWidth: 1, strokeDasharray: '1.5 1.5' },
];

function Legend() {
  const rows = [135, 164, 192, 219];
  return (
    <div
      style={{
        position: 'absolute', left: 9, top: 118, width: 355, height: 125,
        border: '2px solid #000', boxSizing: 'border-box', background: '#fff',
        fontFamily: FONT, fontSize: 14, color: '#111',
      }}
    >
      {SERIES_LABELS.map((label, i) => (
        <div key={i} style={{ position: 'absolute', left: 0, top: rows[i] - 120, width: 350, height: 0 }}>
          <svg width={56} height={6} style={{ position: 'absolute', left: 3, top: -3 }}>
            <line x1={0} y1={3} x2={55} y2={3} {...LEGEND_LINE_STYLES[i]} />
          </svg>
          <span style={{ position: 'absolute', left: 65, top: -9, whiteSpace: 'nowrap', lineHeight: '18px' }}>{label}</span>
        </div>
      ))}
    </div>
  );
}

export default function App() {
  return (
    <div style={{ position: 'absolute', left: 0, top: 0, width: 1090, height: 1124, background: '#fff', overflow: 'hidden' }}>
      {PANELS.map((p) => <PanelChart key={p.name} p={p} />)}
      {PANELS.map((p) => (
        <div
          key={p.name + '-box'}
          style={{
            position: 'absolute', left: p.box.l, top: p.box.t, width: p.box.w, height: p.box.h,
            border: '2px solid #000', boxSizing: 'border-box', background: '#fff',
            display: 'flex', alignItems: 'center', justifyContent: 'center',
            fontFamily: FONT, fontSize: p.box.fs, color: '#000', lineHeight: 1,
          }}
        >
          {p.name}
        </div>
      ))}
      <Legend />
    </div>
  );
}
